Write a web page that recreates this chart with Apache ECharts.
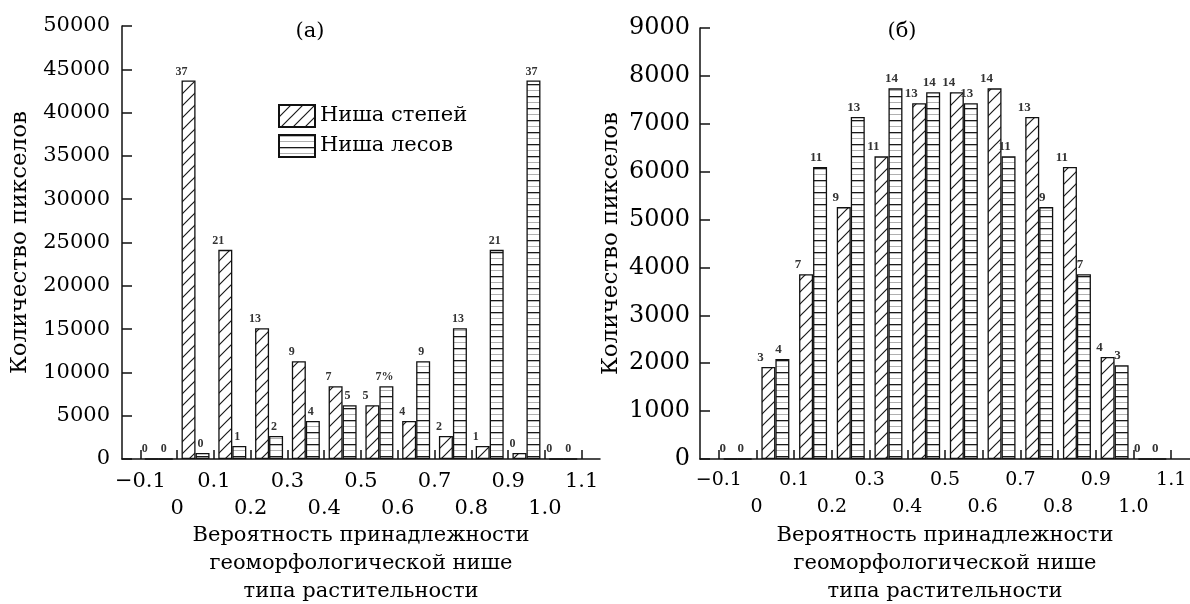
<!DOCTYPE html>
<html><head><meta charset="utf-8">
<script src="https://cdn.jsdelivr.net/npm/echarts@6/dist/echarts.min.js"></script>
<style>html,body{margin:0;padding:0;background:#fff}#c{width:1190px;height:604px}</style>
</head><body><div id="c"></div>
<script>
// ---- data ----
const binCenters = [-0.05, 0.05, 0.15, 0.25, 0.35, 0.45, 0.55, 0.65, 0.75, 0.85, 0.95, 1.05];
const tickValues = [-0.1, 0, 0.1, 0.2, 0.3, 0.4, 0.5, 0.6, 0.7, 0.8, 0.9, 1.0, 1.1];
const tickLabels = ['\u22120.1', '0', '0.1', '0.2', '0.3', '0.4', '0.5', '0.6', '0.7', '0.8', '0.9', '1.0', '1.1'];
const seriesNames = ['Ниша степей', 'Ниша лесов'];
// panel (а)
const steppeA = [0, 43700, 24150, 15100, 11300, 8400, 6200, 4400, 2650, 1500, 700, 0];
const forestA = [0, 700, 1500, 2650, 4400, 6200, 8400, 11300, 15100, 24150, 43700, 0];
const steppeApct = ['0', '37', '21', '13', '9', '7', '5', '4', '2', '1', '0', '0'];
const forestApct = ['0', '0', '1', '2', '4', '5', '7%', '9', '13', '21', '37', '0'];
// panel (б)
const steppeB = [0, 1920, 3860, 5260, 6320, 7430, 7660, 7740, 7140, 6100, 2130, 0];
const forestB = [0, 2090, 6100, 7140, 7740, 7660, 7430, 6320, 5260, 3860, 1960, 0];
const steppeBpct = ['0', '3', '7', '9', '11', '13', '14', '14', '13', '11', '4', '0'];
const forestBpct = ['0', '4', '11', '13', '14', '14', '13', '11', '9', '7', '3', '0'];
const yMaxA = 50000, yStepA = 5000, yMaxB = 9000, yStepB = 1000;
const titleA = '(а)', titleB = '(б)';
const yName = 'Количество пикселов';
const xName = 'Вероятность принадлежности\nгеоморфологической нише\nтипа растительности';

// ---- patterns ----
function hatchCanvas() {
  const s = 12, c = document.createElement('canvas');
  c.width = s; c.height = s;
  const g = c.getContext('2d');
  g.fillStyle = '#fff'; g.fillRect(0, 0, s, s);
  g.strokeStyle = '#1a1a1a'; g.lineWidth = 1.2;
  g.beginPath();
  g.moveTo(0, s); g.lineTo(s, 0);
  g.moveTo(-2, 2); g.lineTo(2, -2);
  g.moveTo(s - 2, s + 2); g.lineTo(s + 2, s - 2);
  g.stroke();
  return c;
}
function hlineCanvas() {
  const s = 12, c = document.createElement('canvas');
  c.width = s; c.height = s;
  const g = c.getContext('2d');
  g.fillStyle = '#fff'; g.fillRect(0, 0, s, s);
  g.fillStyle = '#1a1a1a'; g.fillRect(0, 0, s, 1.3);
  g.fillStyle = '#b0b0b0'; g.fillRect(0, 6, s, 1);
  return c;
}
const hatchFill = { image: hatchCanvas(), repeat: 'repeat' };
const hlineFill = { image: hlineCanvas(), repeat: 'repeat' };

const serif = 'DejaVu Serif';
const ink = '#000';
const lineStyle = { color: '#111', width: 1.5 };
const row1 = tickValues.filter((v, i) => i % 2 === 0);
const row2 = tickValues.filter((v, i) => i % 2 === 1);
const fmt = v => tickLabels[Math.round(v * 10) + 1];

function xAxes(grid, fs) {
  return [
    { type: 'value', gridIndex: grid, position: 'bottom', min: -0.15, max: 1.15,
      axisLine: { show: true, onZero: false, lineStyle },
      axisTick: { show: true, inside: true, length: 9, customValues: tickValues, lineStyle },
      axisLabel: { customValues: row1, formatter: fmt, margin: 12, color: ink, fontFamily: serif, fontSize: fs },
      splitLine: { show: false },
      name: xName, nameLocation: 'middle', nameGap: 63,
      nameTextStyle: { fontFamily: serif, fontSize: 21, lineHeight: 28, color: ink } },
    { type: 'value', gridIndex: grid, position: 'bottom', min: -0.15, max: 1.15,
      axisLine: { show: false, onZero: false }, axisTick: { show: false },
      axisLabel: { customValues: row2, formatter: fmt, margin: 39, color: ink, fontFamily: serif, fontSize: fs },
      splitLine: { show: false } }
  ];
}
function yAxis(grid, max, step, fs, margin, gap) {
  return { type: 'value', gridIndex: grid, position: 'left', min: 0, max: max, interval: step,
    axisLine: { show: true, onZero: false, lineStyle },
    axisTick: { show: true, inside: true, length: 10, lineStyle },
    axisLabel: { margin: margin, color: ink, fontFamily: serif, fontSize: fs, formatter: v => String(v) },
    splitLine: { show: false },
    name: yName, nameLocation: 'middle', nameGap: gap,
    nameTextStyle: { fontFamily: serif, fontSize: 23, color: ink } };
}
function barSeries(name, xi, yi, vals, pct, fill, fs, dx) {
  return { type: 'bar', name: name, xAxisIndex: xi, yAxisIndex: yi,
    data: binCenters.map((x, i) => [x, vals[i]]),
    barWidth: 14, barGap: '0%',
    itemStyle: { color: fill, borderColor: '#111', borderWidth: 1.3 },
    label: { show: true, position: 'top', distance: 3, offset: [dx, 0],
      formatter: p => pct[p.dataIndex],
      fontFamily: 'Liberation Serif', fontSize: fs, fontWeight: 'bold', color: '#333' } };
}

const chart = echarts.init(document.getElementById('c'));
chart.setOption({
  animation: false,
  backgroundColor: '#fff',
  title: [
    { text: titleA, left: 305, top: 16, textAlign: 'center',
      textStyle: { fontFamily: serif, fontSize: 21, fontWeight: 'normal', color: ink } },
    { text: titleB, left: 897, top: 16, textAlign: 'center',
      textStyle: { fontFamily: serif, fontSize: 21, fontWeight: 'normal', color: ink } }
  ],
  legend: { data: seriesNames, orient: 'vertical', left: 273, top: 99, itemWidth: 36, itemHeight: 22, itemGap: 6,
    icon: 'rect', textStyle: { fontFamily: serif, fontSize: 21, color: ink } },
  grid: [
    { left: 122, top: 26, width: 478, height: 433, containLabel: false, outerBoundsMode: 'none' },
    { left: 700, top: 28, width: 490, height: 431, containLabel: false, outerBoundsMode: 'none' }
  ],
  xAxis: [].concat(xAxes(0, 21), xAxes(1, 19)),
  yAxis: [ yAxis(0, yMaxA, yStepA, 21, 12, 90), yAxis(1, yMaxB, yStepB, 24, 10, 77) ],
  series: [
    barSeries(seriesNames[0], 0, 0, steppeA, steppeApct, hatchFill, 12, -7),
    barSeries(seriesNames[1], 0, 0, forestA, forestApct, hlineFill, 12, -2),
    barSeries(seriesNames[0], 2, 1, steppeB, steppeBpct, hatchFill, 13, -8),
    barSeries(seriesNames[1], 2, 1, forestB, forestBpct, hlineFill, 13, -4)
  ]
});
</script></body></html>
